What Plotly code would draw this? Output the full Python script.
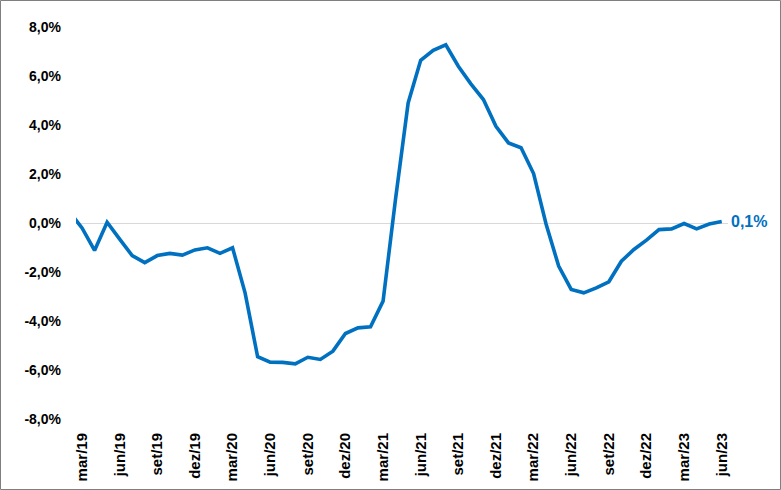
import plotly.graph_objects as go

months = ["fev/19", "mar/19", "abr/19", "mai/19", "jun/19", "jul/19", "ago/19", "set/19", "out/19", "nov/19", "dez/19",
          "jan/20", "fev/20", "mar/20", "abr/20", "mai/20", "jun/20", "jul/20", "ago/20", "set/20", "out/20", "nov/20", "dez/20",
          "jan/21", "fev/21", "mar/21", "abr/21", "mai/21", "jun/21", "jul/21", "ago/21", "set/21", "out/21", "nov/21", "dez/21",
          "jan/22", "fev/22", "mar/22", "abr/22", "mai/22", "jun/22", "jul/22", "ago/22", "set/22", "out/22", "nov/22", "dez/22",
          "jan/23", "fev/23", "mar/23", "abr/23", "mai/23", "jun/23"]
values = [0.45, -0.20, -1.12, 0.03, -0.66, -1.33, -1.62, -1.33, -1.24, -1.31, -1.10,
          -1.01, -1.24, -1.01, -2.85, -5.46, -5.68, -5.69, -5.75, -5.48, -5.57, -5.23, -4.51,
          -4.28, -4.24, -3.19, 1.00, 4.90, 6.64, 7.05, 7.27, 6.40, 5.68, 5.04, 3.95,
          3.27, 3.07, 2.02, -0.05, -1.76, -2.71, -2.85, -2.65, -2.40, -1.56, -1.08, -0.70,
          -0.27, -0.24, -0.02, -0.24, -0.04, 0.06]
y_ticks = [-8, -6, -4, -2, 0, 2, 4, 6, 8]


def pct(v):
    return f"{v:.1f}%".replace(".", ",")


# index 0 = mar/19 (first labelled month); fev/19 sits just outside the visible range
x_idx = list(range(-1, len(months) - 1))
tick_idx = [i for i in x_idx if i >= 0 and i % 3 == 0]
tick_text = [months[i + 1] for i in tick_idx]

blue = "#0070C0"
font_family = "Liberation Sans, Arial, sans-serif"

fig = go.Figure()
fig.add_trace(go.Scatter(
    x=x_idx, y=values, mode="lines",
    line=dict(color=blue, width=3.6),
    hoverinfo="skip", showlegend=False,
))

last_val = values[-1]
fig.add_annotation(
    x=x_idx[-1], y=last_val, xref="x", yref="y",
    text=pct(last_val),
    showarrow=False, xanchor="left", yanchor="middle", xshift=7,
    font=dict(family=font_family, size=16, color=blue, weight="bold"),
)

L, R, T, B = 76, 53, 27, 71
W, H = 781, 490
pw, ph = W - L - R, H - T - B
fig.add_shape(
    type="rect", xref="paper", yref="paper",
    x0=(0.5 - L) / pw, x1=(W - 0.5 - L) / pw,
    y0=(T + ph - (H - 0.5)) / ph, y1=(T + ph - 0.5) / ph,
    line=dict(color="#7f7f7f", width=1), fillcolor="rgba(0,0,0,0)", layer="below",
)

fig.update_layout(
    width=W, height=H,
    margin=dict(l=L, r=R, t=T, b=B, autoexpand=False),
    paper_bgcolor="white", plot_bgcolor="white",
    font=dict(family=font_family, size=14, color="black"),
    xaxis=dict(
        range=[-0.48, len(months) - 1.5],
        tickmode="array", tickvals=tick_idx, ticktext=tick_text,
        tickangle=-90, showgrid=False, zeroline=False, showline=False,
        ticks="", ticklabelstandoff=10, automargin=False,
        tickfont=dict(family=font_family, size=15, color="black", weight="bold"),
    ),
    yaxis=dict(
        range=[-8, 8], tickmode="array", tickvals=y_ticks,
        ticktext=[pct(v) for v in y_ticks],
        showgrid=False, zeroline=True, zerolinecolor="#d9d9d9", zerolinewidth=1,
        showline=False, ticks="", ticklabelstandoff=14, automargin=False,
        tickfont=dict(family=font_family, size=14, color="black", weight="bold"),
    ),
)

fig.write_html("out.html")
